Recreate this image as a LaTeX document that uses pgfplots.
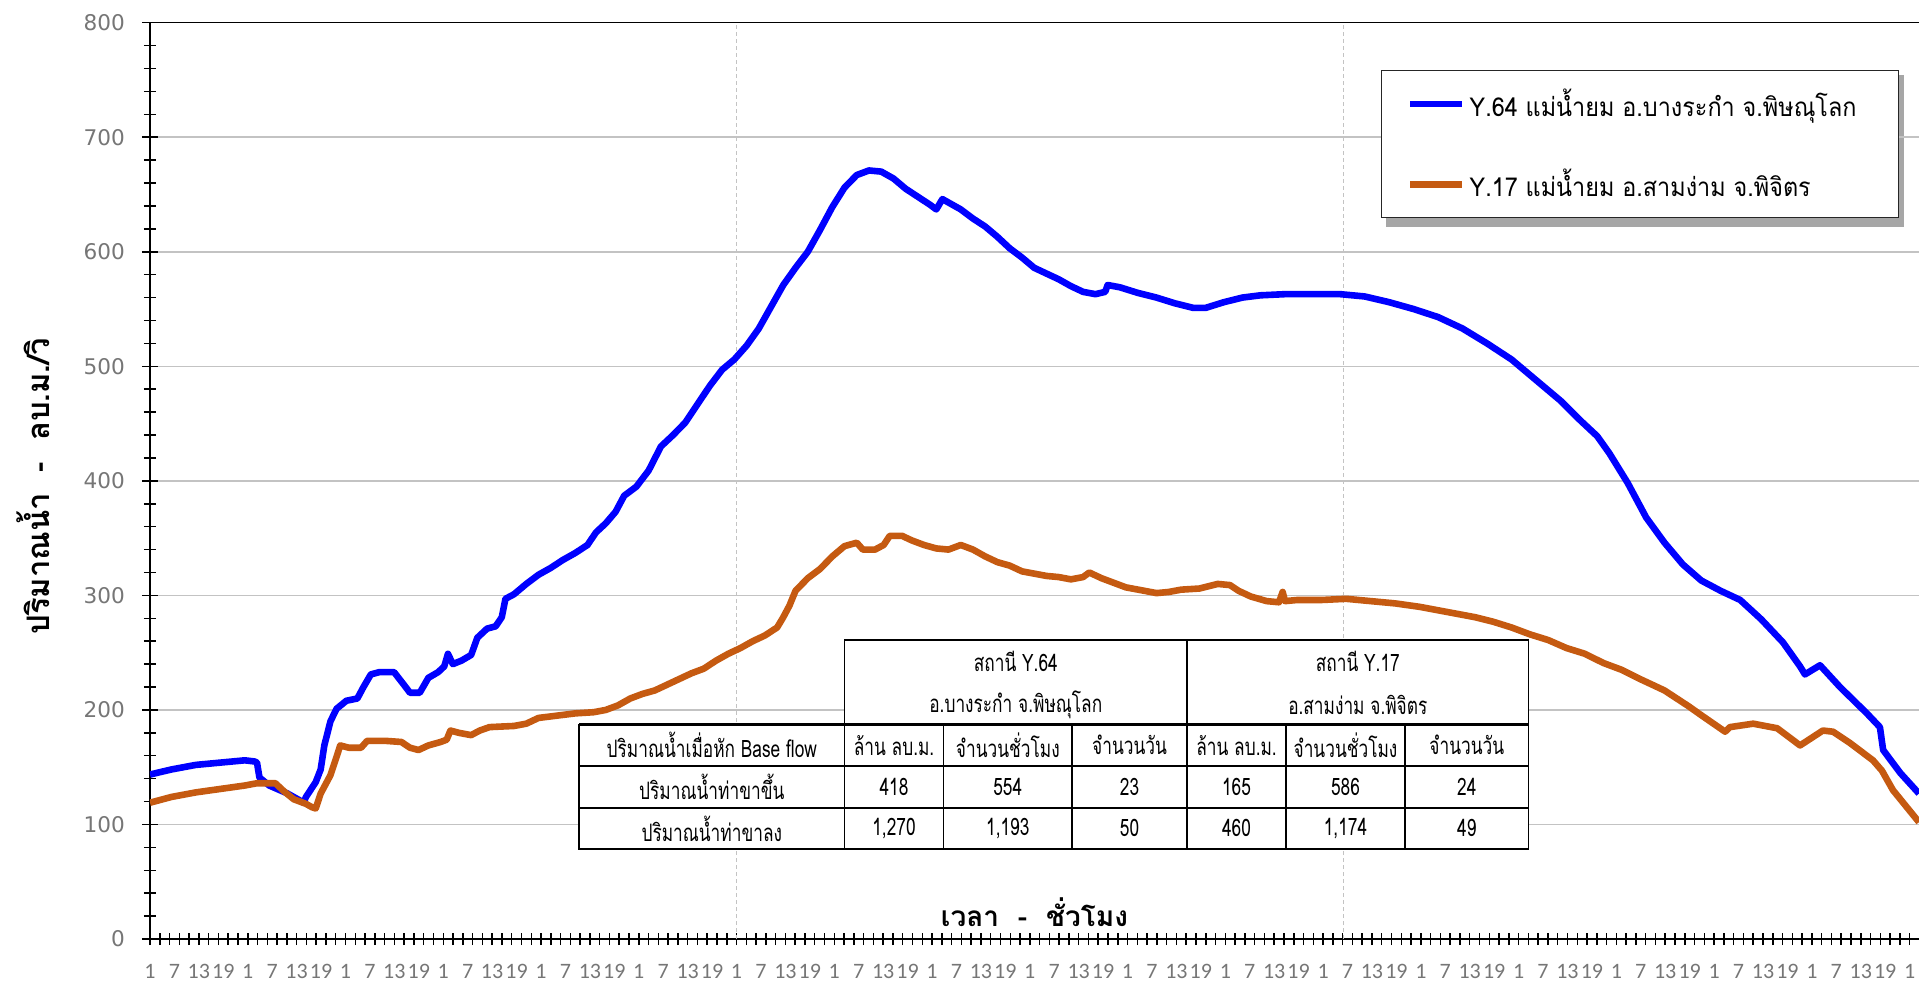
\documentclass[border=0pt]{standalone}
\usepackage{fontspec}
\usepackage{pgfplots}
\pgfplotsset{compat=1.18}
\newfontfamily\thai[Script=Thai]{Loma}
\newfontfamily\thail[Script=Thai,FakeStretch=0.9]{Loma}
\newfontfamily\thaic[Script=Thai,FakeStretch=0.72]{Loma}
\newfontfamily\dejavu{DejaVu Sans}
\newfontfamily\carlito{Carlito}
\definecolor{ylblue}{RGB}{0,0,255}
\definecolor{ylorange}{RGB}{197,90,17}
\definecolor{tickgray}{RGB}{118,118,118}
\definecolor{gridgray}{RGB}{195,195,195}

\begin{document}
\begin{tikzpicture}
% legend shadow, behind the axis
\fill[black!35] (618pt,356pt) rectangle (877pt,432pt);
\begin{axis}[
  at={(0,0)}, anchor=south west,
  scale only axis, width=884.5pt, height=458.15pt,
  xmin=0, xmax=434.3, ymin=0, ymax=800,
  axis x line*=bottom, axis y line*=left,
  axis line style={line width=0.75pt, black},
  xtick={0,6,...,432},
  xticklabels={1,7,13,19,1,7,13,19,1,7,13,19,1,7,13,19,1,7,13,19,1,7,13,19,
    1,7,13,19,1,7,13,19,1,7,13,19,1,7,13,19,1,7,13,19,1,7,13,19,
    1,7,13,19,1,7,13,19,1,7,13,19,1,7,13,19,1,7,13,19,1,7,13,19,1},
  major x tick style={draw=none},
  minor xtick={0,2.4,...,434.3},
  ytick={0,100,...,800},
  minor ytick={20,40,...,780},
  tick align=center,
  major tick length=8pt, minor tick length=6pt,
  tick style={black, line width=0.75pt},
  ymajorgrids, major grid style={gridgray, line width=0.75pt},
  /pgf/number format/assume math mode=true,
  yticklabel style={font=\dejavu\fontsize{10.8}{12}\selectfont, text=tickgray, xshift=-5pt},
  xticklabel style={font=\carlito\fontsize{11}{13}\selectfont, text=tickgray, yshift=-5pt},
  xlabel={เวลา\ \ -\ \ ชั่วโมง},
  xlabel style={font=\thai\bfseries\fontsize{14}{16}\selectfont, at={(axis description cs:0.5,0.029)}, anchor=center},
  ylabel={ปริมาณน้ำ\ \ -\ \ ลบ.ม./วิ},
  ylabel style={font=\thai\bfseries\fontsize{15.5}{17}\selectfont, at={(axis description cs:-0.066,0.494)}, anchor=center},
  legend style={at={(rel axis cs:0.6956,0.9484)}, anchor=north west,
    draw=black!85, line width=0.6pt, fill=white,
    inner xsep=13pt, inner ysep=7pt, row sep=21pt,
    font=\thail\fontsize{13}{15}\selectfont},
  legend cell align=left,
  legend image code/.code={\draw[#1, line width=3.3pt] (0pt,0pt) -- (26pt,0pt);},
]
\draw[gridgray, line width=0.5pt, dash pattern=on 2pt off 1.5pt] (axis cs:144,0) -- (axis cs:144,800);
\draw[gridgray, line width=0.5pt, dash pattern=on 2pt off 1.5pt] (axis cs:293,0) -- (axis cs:293,800);
\draw[black, line width=0.75pt] (rel axis cs:0,1) -- (rel axis cs:1,1);

\addplot[ylblue, line width=3.3pt, line join=round, mark=none] table {
0 143.6
5.24 148
11.25 152
17.26 154
23.27 156
25.67 155
26.27 154
26.87 141
29.28 134
33.78 127
36.79 121
37.69 119
38.29 124
40.69 137
41.90 148
42.80 169
44.30 190
45.80 201
48.21 208
50.91 210
52.41 220
54.22 231
56.32 233
59.92 233
62.33 222
63.83 215
66.23 215
68.34 228
70.74 233
72.24 238
73.15 249
74.35 240
76.45 243
78.85 248
80.36 263
82.76 271
84.86 273
86.37 281
87.27 297
89.37 301
92.38 310
95.38 318
98.39 324
101.39 331
104.40 337
107.40 344
109.50 355
111.91 363
114.31 373
116.41 387
119.42 395
122.42 409
125.43 430
128.43 440
131.44 451
134.44 467
137.45 483
140.45 497
143.46 506
146.46 518
149.47 533
152.47 552
155.48 571
158.48 586
161.49 600
164.49 619
167.50 639
170.50 656
173.51 667
176.51 671
179.52 670
182.52 664
185.53 655
188.53 648
191.53 641
193.04 637
194.54 646
196.04 643
199.05 637
202.05 629
205.06 622
208.06 613
211.07 603
214.07 595
217.08 586
220.08 581
223.09 576
226.09 570
229.09 565
232.10 563
234.51 565
235.11 571
238.11 569
242.62 564
247.12 560
251.63 555
256.14 551
259.14 551
263.65 556
268.16 560
272.66 562
278.67 563
286.19 563
292.20 563
298.20 561
304.21 556
310.22 550
316.23 543
322.24 533
328.25 520
334.26 506
340.27 488
346.29 470
350.79 454
355.30 439
358.30 424
362.81 398
367.32 368
371.82 346
376.33 327
380.84 313
385.60 304
390.4 296
395.6 279
400.9 259
405.1 238
406.3 231
410.0 239
414.9 220
421.5 197
424.7 185
425.5 165
429.7 145
434.3 127
};
\addlegendentry{Y.64 แม่น้ำยม อ.บางระกำ จ.พิษณุโลก\hspace*{6pt}}

\addplot[ylorange, line width=3.3pt, line join=round, mark=none] table {
0 119
5.24 124
11.25 128
17.26 131
23.27 134
26.27 136
30.78 136
32.88 129
35.29 122
38.29 118
39.79 115
40.69 114
41.90 127
44.30 143
45.80 159
46.70 169
48.81 167
51.81 167
53.31 173
57.82 173
61.73 172
63.83 167
65.93 165
68.34 169
71.34 172
72.84 174
73.75 182
75.85 180
78.85 178
80.96 182
83.36 185
89.37 186
92.38 188
95.38 193
99.89 195
104.40 197
108.90 198
111.91 200
114.91 204
117.92 210
120.92 214
123.93 217
126.93 222
129.94 227
132.94 232
135.95 236
138.95 243
141.96 249
144.96 254
147.97 260
150.97 265
153.97 272
155.48 281
156.98 291
158.48 304
161.49 315
164.49 323
167.50 334
170.50 343
173.51 346
175.01 340
178.01 340
180.12 344
181.62 352
184.63 352
187.03 348
190.03 344
193.04 341
196.04 340
199.05 344
202.05 340
205.06 334
208.06 329
211.07 326
214.07 321
217.08 319
220.08 317
223.09 316
226.09 314
229.09 316
230.60 320
233.60 315
236.61 311
239.61 307
242.62 305
247.12 302
250.13 303
253.13 305
257.64 306
262.15 310
265.15 309
267.26 304
270.26 299
274.17 295
277.17 294
278.07 303
278.67 295
281.68 296
287.69 296
293.70 297
299.71 295
305.72 293
311.73 290
316.23 287
320.74 284
325.25 281
329.76 277
334.26 272
338.77 266
343.28 261
347.78 254
352.29 249
356.80 241
361.31 235
365.81 227
368.82 222
371.82 217
374.83 210
377.83 203
380.6 196
386.7 181
387.9 185
393.6 188
399.5 184
405.1 169
410.7 182
413.2 181
417.4 171
423.0 156
425.2 147
427.9 130
434.3 102
};
\addlegendentry{Y.17 แม่น้ำยม อ.สามง่าม จ.พิจิตร}
\end{axis}

% summary table
\begin{scope}[x=1pt, y=1pt, line width=0.75pt]
\fill[white] (347.25,107.25) rectangle (689.3,149.5);
\fill[white] (214.5,45) rectangle (689.3,107.25);
\draw (347.25,107.25) rectangle (689.3,149.5);
\draw (214.5,45) rectangle (689.3,107.25);
\draw (518.5,45) -- (518.5,149.5);
\foreach \cx in {347.25,396.8,461,568,627.5} \draw (\cx,45) -- (\cx,107.25);
\draw[line width=1.1pt] (214.5,107.25) -- (689.3,107.25);
\draw (214.5,86.5) -- (689.3,86.5);
\draw[line width=1.1pt] (214.5,65.65) -- (689.3,65.65);
\begin{scope}[every node/.style={font=\thaic\fontsize{12}{14}\selectfont, inner sep=0pt, anchor=center}]
\node at (432.9,139) {สถานี Y.64};
\node at (432.9,117) {อ.บางระกำ จ.พิษณุโลก};
\node at (603.9,139) {สถานี Y.17};
\node at (603.9,117) {อ.สามง่าม จ.พิจิตร};
\node at (280.9,96.9) {ปริมาณน้ำเมื่อหัก Base flow};
\node at (372,96.9) {ล้าน ลบ.ม.};
\node at (428.9,96.9) {จำนวนชั่วโมง};
\node at (489.75,96.9) {จำนวนวัน};
\node at (543.25,96.9) {ล้าน ลบ.ม.};
\node at (597.75,96.9) {จำนวนชั่วโมง};
\node at (658.4,96.9) {จำนวนวัน};
\node at (280.9,76.1) {ปริมาณน้ำท่าขาขึ้น};
\node at (372,76.1) {418};
\node at (428.9,76.1) {554};
\node at (489.75,76.1) {23};
\node at (543.25,76.1) {165};
\node at (597.75,76.1) {586};
\node at (658.4,76.1) {24};
\node at (280.9,55.3) {ปริมาณน้ำท่าขาลง};
\node at (372,55.3) {1,270};
\node at (428.9,55.3) {1,193};
\node at (489.75,55.3) {50};
\node at (543.25,55.3) {460};
\node at (597.75,55.3) {1,174};
\node at (658.4,55.3) {49};
\end{scope}
\end{scope}

\pgfresetboundingbox
\path[use as bounding box] (-75pt,-21pt) rectangle (884.5pt,469.5pt);
\end{tikzpicture}
\end{document}
